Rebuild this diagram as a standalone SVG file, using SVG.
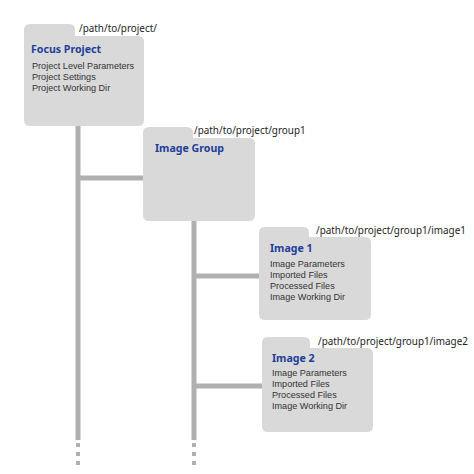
<svg xmlns="http://www.w3.org/2000/svg" width="474" height="474" viewBox="0 0 474 474">
<style>
.folder{fill:#d9d9d9;stroke:none}
.title{font-family:"Noto Sans","Open Sans",sans-serif;font-weight:bold;font-size:10.6px;fill:#22409a}
.item{font-family:"Liberation Sans",Arial,sans-serif;font-size:9.1px;fill:#333333}
.path{font-family:"Noto Sans","Open Sans",sans-serif;font-size:9.9px;fill:#222222}
.conn{stroke:#b0b0b0;stroke-width:5;fill:none}
.dots{stroke:#b0b0b0;stroke-width:4;fill:none;stroke-dasharray:4 5}
</style>
<rect width="474" height="474" fill="#ffffff"/>
<g id="connectors">
<line class="conn" x1="78" y1="120" x2="78" y2="440"/>
<line class="conn" x1="78" y1="178" x2="145" y2="178"/>
<line class="conn" x1="194" y1="215" x2="194" y2="440"/>
<line class="conn" x1="194" y1="276" x2="261" y2="276"/>
<line class="conn" x1="194" y1="386" x2="264" y2="386"/>
<line class="dots" x1="78" y1="443" x2="78" y2="466"/>
<line class="dots" x1="194" y1="443" x2="194" y2="466"/>
</g>
<g id="focus-project">
<path class="folder" d="M24,30 Q24,24 30,24 H69 Q75,24 75,30 V36 H138 Q144,36 144,42 V120 Q144,126 138,126 H30 Q24,126 24,120 Z"/>
<text class="path" x="79" y="32">/path/to/project/</text>
<text class="title" x="31" y="53">Focus Project</text>
<text class="item" x="32" y="69">Project Level Parameters</text>
<text class="item" x="32" y="80">Project Settings</text>
<text class="item" x="32" y="91">Project Working Dir</text>
</g>
<g id="image-group">
<path class="folder" d="M143,133 Q143,127 149,127 H187 Q193,127 193,133 V138 H249 Q255,138 255,144 V215 Q255,221 249,221 H149 Q143,221 143,215 Z"/>
<text class="path" x="194" y="134">/path/to/project/group1</text>
<text class="title" x="155" y="152">Image Group</text>
</g>
<g id="image-1">
<path class="folder" d="M259,233 Q259,227 265,227 H303 Q309,227 309,233 V237 H365 Q371,237 371,243 V314 Q371,320 365,320 H265 Q259,320 259,314 Z"/>
<text class="path" x="316" y="234">/path/to/project/group1/image1</text>
<text class="title" x="270" y="252">Image 1</text>
<text class="item" x="270" y="267">Image Parameters</text>
<text class="item" x="270" y="278">Imported Files</text>
<text class="item" x="270" y="289">Processed Files</text>
<text class="item" x="270" y="300">Image Working Dir</text>
</g>
<g id="image-2">
<path class="folder" d="M262,343 Q262,337 268,337 H304 Q310,337 310,343 V348 H367 Q373,348 373,354 V426 Q373,432 367,432 H268 Q262,432 262,426 Z"/>
<text class="path" x="318" y="345">/path/to/project/group1/image2</text>
<text class="title" x="272" y="362">Image 2</text>
<text class="item" x="272" y="376">Image Parameters</text>
<text class="item" x="272" y="387">Imported Files</text>
<text class="item" x="272" y="398">Processed Files</text>
<text class="item" x="272" y="409">Image Working Dir</text>
</g>
</svg>
